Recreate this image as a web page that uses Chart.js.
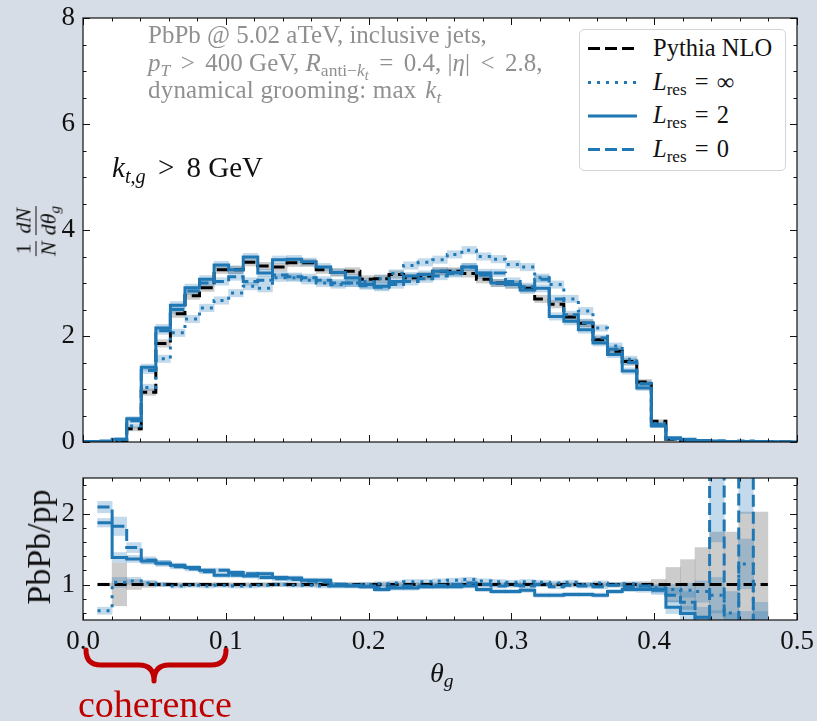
<!DOCTYPE html>
<html><head><meta charset="utf-8">
<script src="https://cdn.jsdelivr.net/npm/chart.js@4.4.0/dist/chart.umd.min.js"></script>
<style>
html,body{margin:0;padding:0}
body{width:817px;height:721px;background:#d6dde6;position:relative;overflow:hidden;font-family:'Liberation Serif',serif;color:#111}
canvas{position:absolute;left:0}
.t{position:absolute;white-space:nowrap;line-height:1}
sub{font-size:70%;vertical-align:-0.28em;line-height:0}
.rel{margin:0 0.33em}
.frac{display:inline-flex;flex-direction:column;align-items:center;vertical-align:middle;margin:0 1px}
.frac .n{border-bottom:1.6px solid #111;padding:0 2px 1px 2px;line-height:1}
.frac .d{padding:1px 2px 0 2px;line-height:1}
</style></head><body>
<canvas id="cTop" width="817" height="460" style="top:0"></canvas>
<canvas id="cRat" width="817" height="261" style="top:460px"></canvas>

<div class="t" style="left:148px;top:22px;font-size:25px;color:#909090">PbPb @ 5.02 aTeV, inclusive jets,</div>
<div class="t" style="left:148px;top:50px;font-size:25px;color:#909090"><i>p</i><sub><i>T</i></sub><span class="rel" style="margin:0 0.42em">&gt;</span>400 GeV, <i>R</i><sub>anti−<i>k</i><sub style="font-size:80%"><i>t</i></sub></sub><span class="rel" style="margin:0 0.42em">=</span>0.4, |<i>η</i>|<span class="rel" style="margin:0 0.42em">&lt;</span>2.8,</div>
<div class="t" style="left:148px;top:77px;font-size:25px;color:#909090;letter-spacing:0.2px">dynamical grooming: max<span style="margin-left:0.35em"><i>k</i><sub><i>t</i></sub></span></div>

<div class="t" style="left:112px;top:153px;font-size:29px;color:#111"><i>k</i><sub><i>t</i>,<i>g</i></sub><span class="rel" style="margin:0 0.42em">&gt;</span>8 GeV</div>

<div style="position:absolute;left:579px;top:29px;width:207px;height:142px;background:#fff;border:1px solid #d4d4d4;border-radius:5px;box-sizing:border-box"></div>
<div class="t" style="left:653px;top:36px;font-size:24.5px">Pythia NLO</div>
<div class="t" style="left:653px;top:70px;font-size:24.5px"><i>L</i><sub>res</sub><span class="rel">=</span>∞</div>
<div class="t" style="left:653px;top:103px;font-size:24.5px"><i>L</i><sub>res</sub><span class="rel">=</span>2</div>
<div class="t" style="left:653px;top:137px;font-size:24.5px"><i>L</i><sub>res</sub><span class="rel">=</span>0</div>

<div class="t" style="left:36px;top:231px;font-size:22px;transform:translate(-50%,-50%) rotate(-90deg)"><span class="frac"><span class="n">1</span><span class="d"><i>N</i></span></span><span class="frac"><span class="n"><i>dN</i></span><span class="d"><i>dθ</i><sub><i>g</i></sub></span></span></div>
<div class="t" style="left:39px;top:547px;font-size:34px;transform:translate(-50%,-50%) rotate(-90deg)">PbPb/pp</div>
<div class="t" style="left:430px;top:659px;font-size:28px"><i>θ</i><sub><i>g</i></sub></div>
<div class="t" style="left:55px;top:685px;width:200px;text-align:center;font-size:38px;color:#c00000">coherence</div>

<svg style="position:absolute;left:0;top:0" width="817" height="721">
  <line x1="588" y1="48.5" x2="637" y2="48.5" stroke="#000" stroke-width="3" stroke-dasharray="12 5"/>
  <line x1="588" y1="82.5" x2="637" y2="82.5" stroke="#1f77b4" stroke-width="3" stroke-dasharray="3 6"/>
  <line x1="588" y1="116" x2="637" y2="116" stroke="#1f77b4" stroke-width="3"/>
  <line x1="588" y1="149.5" x2="637" y2="149.5" stroke="#1f77b4" stroke-width="3" stroke-dasharray="12 5"/>
  <path d="M86,650 Q86,665 101,665 L139,665 Q154,665 154,681 Q154,665 169,665 L211,665 Q226,665 226,650" fill="none" stroke="#c00000" stroke-width="5" stroke-linecap="round" stroke-linejoin="round"/>
</svg>

<script>
// ---- data ----
const thetaEdges = [0.0000,0.0102,0.0204,0.0306,0.0408,0.0510,0.0612,0.0714,0.0816,0.0918,
  0.1020,0.1122,0.1224,0.1327,0.1429,0.1531,0.1633,0.1735,0.1837,0.1939,
  0.2041,0.2143,0.2245,0.2347,0.2449,0.2551,0.2653,0.2755,0.2857,0.2959,
  0.3061,0.3163,0.3265,0.3367,0.3469,0.3571,0.3673,0.3776,0.3878,0.3980,
  0.4082,0.4184,0.4286,0.4388,0.4490,0.4592,0.4694,0.4796,0.4898,0.5000];

const xTicks = [0.0,0.1,0.2,0.3,0.4,0.5];
const yTopTicks = [0,2,4,6,8];
const yRatioTicks = [1,2];
const seriesNames = ['Pythia NLO','L_res = ∞','L_res = 2','L_res = 0'];

// top panel: 1/N dN/dθg
const pythiaTop = [0,0.01,0.03,0.25,0.94,1.86,2.42,2.76,2.91,3.25,
  3.25,3.39,3.32,3.30,3.38,3.38,3.25,3.20,3.22,3.07,
  3.08,3.16,3.10,3.13,3.22,3.22,3.18,3.07,3.00,2.97,
  2.90,2.70,2.60,2.36,2.24,1.93,1.71,1.52,1.13,0.39,
  0.05,0.03,0.02,0.01,0.01,0.005,0.005,0,0];
const pythiaTopErr = [0.002,0.005,0.01,0.04,0.06,0.07,0.07,0.07,0.07,0.07,
  0.07,0.07,0.07,0.07,0.07,0.07,0.07,0.07,0.07,0.07,
  0.07,0.07,0.07,0.07,0.07,0.07,0.07,0.07,0.07,0.07,
  0.07,0.07,0.07,0.07,0.07,0.06,0.06,0.06,0.05,0.03,
  0.01,0.01,0.01,0.005,0.005,0.005,0.005,0,0];
const linfTop = [0,0.005,0.02,0.30,1.03,1.57,2.06,2.32,2.53,2.67,
  2.81,2.94,2.90,3.10,3.10,3.05,3.00,2.97,3.00,3.03,
  3.08,3.18,3.33,3.39,3.44,3.54,3.62,3.50,3.45,3.35,
  3.30,3.10,2.97,2.70,2.47,2.15,1.81,1.56,1.10,0.35,
  0.05,0.03,0.02,0.01,0.01,0.01,0.005,0,0];
const l2Top = [0.01,0.01,0.05,0.44,1.41,2.15,2.58,2.91,3.07,3.34,
  3.25,3.49,3.19,3.44,3.45,3.40,3.30,3.20,3.10,2.97,
  2.94,3.03,3.13,3.16,3.22,3.20,3.30,3.19,3.00,2.97,
  2.87,2.90,2.37,2.28,2.12,1.87,1.65,1.34,1.02,0.30,
  0.08,0.05,0.03,0.02,0.01,0.01,0.01,0.005,0];
const l0Top = [0.01,0.02,0.05,0.40,1.35,2.10,2.50,2.85,3.00,3.03,
  3.12,3.03,3.05,3.15,3.12,3.10,3.05,3.00,3.00,2.95,
  2.92,2.97,3.03,3.08,3.13,3.18,3.30,3.15,3.19,3.03,
  2.93,3.07,2.70,2.40,2.25,1.96,1.75,1.50,1.10,0.33,
  0.06,0.03,0.01,0.02,0,0.02,0,0,0];
const blueTopErr = [0.002,0.005,0.01,0.04,0.06,0.07,0.07,0.07,0.07,0.07,
  0.07,0.07,0.07,0.07,0.07,0.07,0.07,0.07,0.07,0.07,
  0.07,0.07,0.07,0.07,0.07,0.07,0.07,0.07,0.07,0.07,
  0.07,0.07,0.07,0.07,0.07,0.06,0.06,0.06,0.05,0.03,
  0.01,0.01,0.01,0.005,0.005,0.005,0.005,0,0];

// bottom panel: PbPb/pp
const pythiaRatio = [null,1,1,1,1,1,1,1,1,1,
  1,1,1,1,1,1,1,1,1,1,
  1,1,1,1,1,1,1,1,1,1,
  1,1,1,1,1,1,1,1,1,1,
  1,1,1,1,1,1,1,null,null];
const pythiaRatioErr = [null,0.02,0.30,0.07,0.04,0.025,0.025,0.025,0.025,0.025,
  0.025,0.025,0.025,0.025,0.025,0.025,0.025,0.025,0.025,0.025,
  0.025,0.025,0.025,0.025,0.025,0.025,0.025,0.025,0.025,0.025,
  0.025,0.025,0.025,0.025,0.025,0.025,0.025,0.025,0.04,0.07,
  0.24,0.35,0.52,0.74,0.74,1.02,1.02,null,null];
const linfRatio = [null,0.63,1.03,1.05,1.02,1.00,0.98,0.99,0.98,0.99,
  0.98,0.98,0.99,1.00,0.99,0.99,0.98,1.00,0.99,1.00,
  1.01,1.02,1.04,1.04,1.05,1.06,1.07,1.05,1.04,1.03,
  1.04,1.03,1.02,1.03,1.00,1.02,1.00,1.01,0.98,0.95,
  0.93,0.92,0.90,0.85,0.60,1.29,0.40,null,null];
const linfRatioErr = [null,0.05,0.07,0.05,0.04,0.03,0.03,0.03,0.03,0.03,
  0.03,0.03,0.03,0.03,0.03,0.03,0.03,0.03,0.03,0.03,
  0.03,0.03,0.03,0.03,0.03,0.03,0.03,0.03,0.03,0.03,
  0.03,0.03,0.03,0.03,0.03,0.03,0.03,0.03,0.04,0.05,
  0.07,0.10,0.15,0.25,0.30,0.35,0.35,null,null];
const l2Ratio = [null,1.87,1.38,1.36,1.33,1.30,1.27,1.24,1.20,1.13,
  1.17,1.12,1.15,1.10,1.09,1.06,1.06,0.98,0.98,0.97,
  0.93,0.95,0.95,0.97,0.97,0.97,0.98,0.93,0.90,0.90,
  0.92,0.85,0.85,0.86,0.86,0.85,0.90,0.93,0.93,0.93,
  0.68,0.59,0.54,0.45,0.42,0.42,0.42,null,null];
const l2RatioErr = [null,0.06,0.07,0.05,0.04,0.04,0.03,0.03,0.03,0.03,
  0.03,0.03,0.03,0.03,0.03,0.03,0.03,0.03,0.03,0.03,
  0.03,0.03,0.03,0.03,0.03,0.03,0.03,0.03,0.03,0.03,
  0.03,0.03,0.03,0.03,0.03,0.03,0.03,0.03,0.04,0.05,
  0.09,0.10,0.14,0.18,0.18,0.20,0.20,null,null];
const l0Ratio = [null,2.09,1.82,1.52,1.34,1.30,1.25,1.22,1.18,1.20,
  1.13,1.15,1.10,1.08,1.07,1.05,1.03,1.00,0.99,0.98,
  0.96,0.97,0.98,0.98,0.99,1.00,1.02,1.00,0.98,0.99,
  0.98,1.00,0.97,0.99,0.98,0.97,0.99,0.97,0.98,0.92,
  0.85,0.75,0.30,4.00,0.20,4.00,0.20,null,null];
const l0RatioErr = [null,0.08,0.13,0.07,0.05,0.04,0.03,0.03,0.03,0.03,
  0.03,0.03,0.03,0.03,0.03,0.03,0.03,0.03,0.03,0.03,
  0.03,0.03,0.03,0.03,0.03,0.03,0.03,0.03,0.03,0.03,
  0.03,0.03,0.03,0.03,0.03,0.03,0.03,0.03,0.04,0.06,
  0.10,0.15,0.25,2.40,0.25,2.00,0.25,null,null];

// ---- helpers ----
const BLUE = '#1f77b4';
const BLUE_BAND = 'rgba(31,119,180,0.27)';
const GREY_BAND = 'rgba(128,128,128,0.40)';

function stepPts(vals){
  const pts = [];
  for (let k = 0; k < vals.length; k++){
    const v = vals[k];
    if (v === null){ pts.push({x: thetaEdges[k], y: null}); continue; }
    pts.push({x: thetaEdges[k], y: v});
    pts.push({x: thetaEdges[k+1], y: v});
  }
  return pts;
}
function lineDS(label, vals, color, dash, order){
  return {type: 'line', label, data: stepPts(vals), borderColor: color, borderWidth: 3, borderDash: dash,
    pointRadius: 0, fill: false, order, spanGaps: false, clip: 0, borderCapStyle: 'butt'};
}
function bandDS(vals, errs, color, order){
  const data = vals.map((v, k) => ({
    x: (thetaEdges[k] + thetaEdges[k+1]) / 2,
    y: v === null ? null : [v - errs[k], v + errs[k]]
  }));
  return {type: 'bar', data, backgroundColor: color, borderWidth: 0, borderSkipped: false,
    barPercentage: 1, categoryPercentage: 1, grouped: false, order, clip: 0};
}

const framePlugin = {
  id: 'frame',
  beforeDraw(chart){
    const {ctx, chartArea: a} = chart;
    ctx.save(); ctx.fillStyle = '#fff';
    ctx.fillRect(a.left, a.top, a.right - a.left, a.bottom - a.top);
    ctx.restore();
  },
  afterDraw(chart){
    const {ctx, chartArea: a, scales} = chart;
    const o = chart.options.plugins.frame;
    ctx.save();
    ctx.strokeStyle = '#111'; ctx.lineWidth = 1.2;
    ctx.strokeRect(a.left, a.top, a.right - a.left, a.bottom - a.top);
    ctx.lineWidth = 1;
    const X = scales.x, Y = scales.y;
    const tick = (x1,y1,x2,y2)=>{ctx.beginPath();ctx.moveTo(x1,y1);ctx.lineTo(x2,y2);ctx.stroke();};
    for (let i = 0; i <= 25; i++){
      const v = i * 0.02;
      const px = Math.round(X.getPixelForValue(v)) + 0.5;
      const L = (i % 5 === 0) ? 7 : 3.5;
      tick(px, a.bottom, px, a.bottom - L); tick(px, a.top, px, a.top + L);
    }
    const n = Math.round((o.yMax - o.yMin) / o.yMinor);
    for (let i = 0; i <= n; i++){
      const v = o.yMin + i * o.yMinor;
      const py = Math.round(Y.getPixelForValue(v)) + 0.5;
      const major = o.majors.some(m => Math.abs(m - v) < 1e-6);
      const L = major ? 7 : 3.5;
      tick(a.left, py, a.left + L, py); tick(a.right, py, a.right - L, py);
    }
    ctx.restore();
  }
};

function pinArea(chart, want){
  for (let i = 0; i < 6; i++){
    const ca = chart.chartArea, p = chart.config.options.layout.padding;
    const dT = want.top - ca.top, dB = ca.bottom - want.bottom;
    const dL = want.left - ca.left, dR = ca.right - want.right;
    if (Math.abs(dT) + Math.abs(dB) + Math.abs(dL) + Math.abs(dR) < 0.3) break;
    p.top += dT; p.bottom += dB; p.left += dL; p.right += dR;
    chart.update('none');
  }
}

Chart.defaults.font.family = "'Liberation Serif', serif";
Chart.defaults.color = '#111';

const common = {animation: false, responsive: false, devicePixelRatio: 1, events: []};

function makeScales(yMin, yMax, yTicks, showX){
  return {
    x: {type: 'linear', min: 0, max: 0.5, offset: false,
      afterBuildTicks: s => { s.ticks = xTicks.map(v => ({value: v})); },
      ticks: {display: showX, padding: 6, font: {size: 27}, color: '#111', maxRotation: 0, autoSkip: false,
        callback: v => Number(v).toFixed(1)},
      grid: {display: false, drawTicks: false}, border: {display: false},
      afterFit: s => { s.paddingLeft = 0; s.paddingRight = 0; }},
    y: {type: 'linear', min: yMin, max: yMax,
      afterBuildTicks: s => { s.ticks = yTicks.map(v => ({value: v})); },
      ticks: {padding: 8, font: {size: 27}, color: '#111', callback: v => String(v)},
      grid: {display: false, drawTicks: false}, border: {display: false},
      afterFit: s => { s.width = 83; s.paddingTop = 0; s.paddingBottom = 0; }}
  };
}

// top chart
const topChart = new Chart(document.getElementById('cTop'), {
  type: 'line',
  data: {datasets: [
    lineDS(seriesNames[0], pythiaTop, '#000', [12,5], 3),
    lineDS(seriesNames[1], linfTop, BLUE, [3,6], 2),
    lineDS(seriesNames[2], l2Top, BLUE, [], 1),
    lineDS(seriesNames[3], l0Top, BLUE, [12,5], 0),
    bandDS(pythiaTop, pythiaTopErr, GREY_BAND, 20),
    bandDS(linfTop, blueTopErr, BLUE_BAND, 19),
    bandDS(l2Top, blueTopErr, BLUE_BAND, 18),
    bandDS(l0Top, blueTopErr, BLUE_BAND, 17),
  ]},
  options: {...common,
    layout: {padding: {left: 0, right: 20, top: 18, bottom: 18}},
    plugins: {legend: {display: false}, tooltip: {enabled: false},
      frame: {yMin: 0, yMax: 8, yMinor: 0.5, majors: yTopTicks}},
    scales: makeScales(0, 8, yTopTicks, false)
  },
  plugins: [framePlugin]
});
pinArea(topChart, {left: 83, right: 797, top: 18, bottom: 442});

// ratio chart
const ratChart = new Chart(document.getElementById('cRat'), {
  type: 'line',
  data: {datasets: [
    lineDS(seriesNames[0], pythiaRatio, '#000', [12,5], 3),
    lineDS(seriesNames[1], linfRatio, BLUE, [3,6], 2),
    lineDS(seriesNames[2], l2Ratio, BLUE, [], 1),
    lineDS(seriesNames[3], l0Ratio, BLUE, [12,5], 0),
    bandDS(pythiaRatio, pythiaRatioErr, GREY_BAND, 20),
    bandDS(linfRatio, linfRatioErr, BLUE_BAND, 19),
    bandDS(l2Ratio, l2RatioErr, BLUE_BAND, 18),
    bandDS(l0Ratio, l0RatioErr, BLUE_BAND, 17),
  ]},
  options: {...common,
    layout: {padding: {left: 0, right: 20, top: 18, bottom: 60}},
    plugins: {legend: {display: false}, tooltip: {enabled: false},
      frame: {yMin: 0.6, yMax: 2.4, yMinor: 0.2, majors: yRatioTicks}},
    scales: makeScales(0.5, 2.5, yRatioTicks, true)
  },
  plugins: [framePlugin]
});
pinArea(ratChart, {left: 83, right: 797, top: 18, bottom: 160});
</script>
</body></html>
